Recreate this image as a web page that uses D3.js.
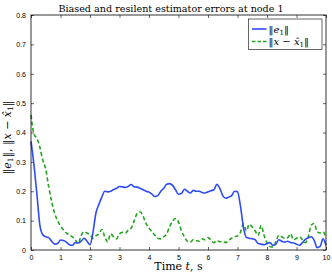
<!DOCTYPE html>
<html>
<head>
<meta charset="utf-8">
<script src="https://cdn.jsdelivr.net/npm/d3@7"></script>
<style>
  body { margin: 0; background: #fff; }
  svg { display: block; }
</style>
</head>
<body>
<div id="chart"></div>
<script>
const WIDTH = 332;
const HEIGHT = 274;
const MARGIN = { top: 15, right: 6, bottom: 24, left: 31 };

// time axis, 0.1 s steps
const TIME = d3.range(0, 101).map(i => i / 10);

// ||e_1||
const E1 = [
  0.37, 0.29, 0.19, 0.085, 0.052, 0.045, 0.042, 0.03, 0.02, 0.022,
  0.034, 0.032, 0.027, 0.018, 0.016, 0.025, 0.024, 0.03, 0.04, 0.03,
  0.018, 0.06, 0.125, 0.155, 0.18, 0.2, 0.198, 0.2, 0.206, 0.21,
  0.216, 0.215, 0.213, 0.217, 0.223, 0.215, 0.214, 0.21, 0.205, 0.2,
  0.197, 0.19, 0.182, 0.185, 0.2, 0.21, 0.224, 0.226, 0.22, 0.205,
  0.19, 0.192, 0.207, 0.2, 0.194, 0.203, 0.2, 0.2, 0.196, 0.194,
  0.198, 0.202, 0.205, 0.224, 0.21, 0.185, 0.176, 0.18, 0.185, 0.2,
  0.198, 0.15, 0.078, 0.043, 0.04, 0.038, 0.035, 0.022, 0.02, 0.018,
  0.022, 0.025, 0.016, 0.02, 0.035, 0.03, 0.027, 0.03, 0.025, 0.024,
  0.02, 0.016, 0.025, 0.036, 0.042, 0.045, 0.033, 0.008, 0.012, 0.038,
  0.016
];

// ||x - x_hat_1||
const XERR = [
  0.46, 0.395, 0.38, 0.35, 0.305, 0.275, 0.215, 0.165, 0.125, 0.1,
  0.082, 0.068, 0.058, 0.05, 0.045, 0.035, 0.022, 0.05, 0.062, 0.058,
  0.052, 0.04, 0.048, 0.055, 0.07, 0.045, 0.028, 0.055, 0.045, 0.038,
  0.055, 0.06, 0.058, 0.068, 0.075, 0.1, 0.125, 0.13, 0.115, 0.09,
  0.075, 0.062, 0.05, 0.04, 0.038, 0.045, 0.055, 0.08, 0.098, 0.107,
  0.095, 0.065, 0.045, 0.03, 0.027, 0.035, 0.032, 0.03, 0.038, 0.035,
  0.042, 0.035, 0.025, 0.032, 0.028, 0.03, 0.025, 0.033, 0.04, 0.045,
  0.048, 0.06, 0.088, 0.065, 0.088, 0.078, 0.065, 0.05, 0.083, 0.05,
  0.025, 0.012, 0.01, 0.028, 0.05, 0.045, 0.04, 0.042, 0.055, 0.035,
  0.04, 0.045, 0.035, 0.025, 0.045, 0.085, 0.09, 0.062, 0.058, 0.062,
  0.04
];

const X_TICKS = [0, 1, 2, 3, 4, 5, 6, 7, 8, 9, 10];
const Y_TICKS = [0, 0.1, 0.2, 0.3, 0.4, 0.5, 0.6, 0.7, 0.8];

const BLUE = '#2d4cf5';
const GREEN = '#22a41c';
const SERIF = '"DejaVu Serif", "Liberation Serif", serif';
const SANS = '"Liberation Sans", Arial, sans-serif';

const svg = d3.select('#chart')
  .append('svg')
  .attr('width', WIDTH)
  .attr('height', HEIGHT);

const x = d3.scaleLinear().domain([0, 10]).range([MARGIN.left, WIDTH - MARGIN.right]);
const y = d3.scaleLinear().domain([0, 0.8]).range([HEIGHT - MARGIN.bottom, MARGIN.top]);

const fmt = d => d === 0 ? '0' : d3.format('.1f')(d);

// axes, ticks inward on all four sides
const axisStyle = g => {
  g.select('.domain').remove();
  g.selectAll('line').attr('stroke', '#000').attr('stroke-width', 0.6);
  g.selectAll('text').style('font-family', SANS).style('font-size', '7px').attr('fill', '#000');
};

svg.append('g')
  .attr('transform', `translate(0, ${y(0)})`)
  .call(d3.axisBottom(x).tickValues(X_TICKS).tickSize(-3).tickPadding(5).tickFormat(d3.format('d')))
  .call(axisStyle);
svg.append('g')
  .attr('transform', `translate(0, ${y(0.8)})`)
  .call(d3.axisTop(x).tickValues(X_TICKS).tickSize(-3).tickFormat(''))
  .call(axisStyle);
svg.append('g')
  .attr('transform', `translate(${x(0)}, 0)`)
  .call(d3.axisLeft(y).tickValues(Y_TICKS).tickSize(-3).tickPadding(5).tickFormat(fmt))
  .call(axisStyle);
svg.append('g')
  .attr('transform', `translate(${x(10)}, 0)`)
  .call(d3.axisRight(y).tickValues(Y_TICKS).tickSize(-3).tickFormat(''))
  .call(axisStyle);

// series
const line = vals => d3.line()
  .x((d, i) => x(TIME[i]))
  .y(d => y(d))
  .curve(d3.curveMonotoneX)(vals);

svg.append('path')
  .attr('d', line(XERR))
  .attr('fill', 'none')
  .attr('stroke', GREEN)
  .attr('stroke-width', 1.6)
  .attr('stroke-dasharray', '4,2.5');

svg.append('path')
  .attr('d', line(E1))
  .attr('fill', 'none')
  .attr('stroke', BLUE)
  .attr('stroke-width', 1.6);

// box
svg.append('rect')
  .attr('x', x(0)).attr('y', y(0.8))
  .attr('width', x(10) - x(0)).attr('height', y(0) - y(0.8))
  .attr('fill', 'none').attr('stroke', '#000').attr('stroke-width', 0.8);

// title
svg.append('text')
  .attr('x', 171)
  .attr('y', 12)
  .style('font-family', SERIF)
  .style('font-size', '9.6px')
  .style('text-anchor', 'middle')
  .text('Biased and resilent estimator errors at node 1');

// x label
const xl = svg.append('text')
  .attr('x', (x(0) + x(10)) / 2)
  .attr('y', 270)
  .style('font-family', SERIF)
  .style('font-size', '11px')
  .style('text-anchor', 'middle');
xl.append('tspan').text('Time ');
xl.append('tspan').style('font-style', 'italic').text('t');
xl.append('tspan').text(', s');

// y label
const yl = svg.append('text')
  .attr('transform', `translate(11, 137.5) rotate(-90)`)
  .style('font-family', SERIF)
  .style('font-size', '11px')
  .style('text-anchor', 'middle');
yl.append('tspan').text('\u2016');
yl.append('tspan').style('font-style', 'italic').text('e');
yl.append('tspan').style('font-size', '7.5px').attr('dy', 2).text('1');
yl.append('tspan').attr('dy', -2).text('\u2016, \u2016');
yl.append('tspan').style('font-style', 'italic').text('x');
yl.append('tspan').text(' \u2212 ');
yl.append('tspan').style('font-style', 'italic').text('x\u0302');
yl.append('tspan').style('font-size', '7.5px').attr('dy', 2).text('1');
yl.append('tspan').attr('dy', -2).text('\u2016');

// legend
const legend = svg.append('g').attr('transform', 'translate(248.5, 19)');
legend.append('rect')
  .attr('width', 73.5).attr('height', 30.5)
  .attr('fill', '#fff').attr('stroke', '#000').attr('stroke-width', 0.6);

const LEGEND_ITEMS = [
  { color: BLUE, dash: null, parts: [['\u2016', ''], ['e', 'i'], ['1', 's'], ['\u2016', '']] },
  { color: GREEN, dash: '3.5,2', parts: [['\u2016', ''], ['x', 'i'], [' \u2212 ', ''], ['x\u0302', 'i'], ['1', 's'], ['\u2016', '']] }
];

LEGEND_ITEMS.forEach((item, i) => {
  const cy = 10 + i * 12.5;
  legend.append('line')
    .attr('x1', 3.5).attr('x2', 18).attr('y1', cy).attr('y2', cy)
    .attr('stroke', item.color).attr('stroke-width', 1.6)
    .attr('stroke-dasharray', item.dash);
  const t = legend.append('text')
    .attr('x', 20).attr('y', cy + 3.5)
    .style('font-family', SERIF)
    .style('font-size', '10px');
  let sub = false;
  item.parts.forEach(([s, kind]) => {
    const sp = t.append('tspan').text(s);
    if (kind === 'i') sp.style('font-style', 'italic');
    if (kind === 's') { sp.style('font-size', '7px').attr('dy', 2); sub = true; }
    else if (sub) { sp.attr('dy', -2); sub = false; }
  });
});
</script>
</body>
</html>
